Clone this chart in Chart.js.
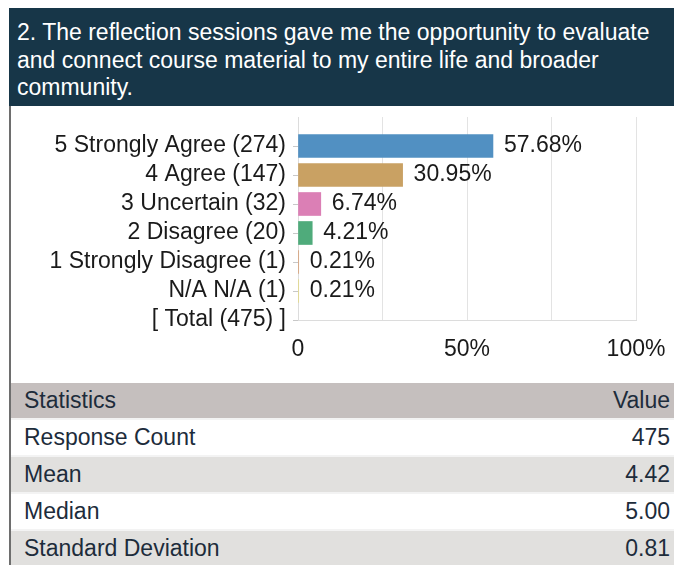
<!DOCTYPE html>
<html>
<head>
<meta charset="utf-8">
<script src="https://cdn.jsdelivr.net/npm/chart.js@4"></script>
<style>
  body { margin: 0; background: #fff; font-family: "Liberation Sans", Arial, sans-serif; }
  #wrap { position: absolute; left: 9px; top: 8px; width: 665px; }
  #title { background: #173648; color: #fff; font-size: 23px; line-height: 27.5px;
           padding: 11px 8px 0 8px; height: 87px; }
  #chartBox { position: relative; height: 277px; border-left: 2px solid #6e6e6e; background: #fff; }
  #chartBox canvas { position: absolute; left: 0; top: 0; }
  #stats { border-left: 2px solid #6e6e6e; }
  .row { display: flex; justify-content: space-between; height: 35px; line-height: 35px;
         border-bottom: 2px solid #f3f3f3; padding: 0 4px 0 13px; font-size: 23px; color: #1d2c3b; }
  .row.head { background: #c5bfbe; }
  .row.odd { background: #fff; }
  .row.even { background: #e1e0de; }
</style>
</head>
<body>
<div id="wrap">
  <div id="title">2. The reflection sessions gave me the opportunity to evaluate and connect course material to my entire life and broader community.</div>
  <div id="chartBox"><canvas id="graph" width="663" height="277"></canvas></div>
  <div id="stats"></div>
</div>
<script>
// ==== Data ====
var categories = ['5 Strongly Agree (274)', '4 Agree (147)', '3 Uncertain (32)', '2 Disagree (20)',
                  '1 Strongly Disagree (1)', 'N/A N/A (1)', '[ Total (475) ]'];
var percents = [57.68, 30.95, 6.74, 4.21, 0.21, 0.21];
var barColors = ['#5190c2', '#c9a163', '#db7fb5', '#4fab7b', '#d6a37c', '#e2d98c'];
var xTickLabels = ['0', '', '50%', '', '100%'];
var statNames = ['Response Count', 'Mean', 'Median', 'Standard Deviation'];
var statValues = ['475', '4.42', '5.00', '0.81'];

var FONT = '"Liberation Sans", Arial, sans-serif';

// ==== Stats table ====
var stats = document.getElementById('stats');
var html = '<div class="row head"><span>Statistics</span><span>Value</span></div>';
for (var i = 0; i < statNames.length; i++) {
    html += '<div class="row ' + (i % 2 ? 'even' : 'odd') + '"><span>' + statNames[i] +
            '</span><span>' + statValues[i] + '</span></div>';
}
stats.innerHTML = html;

// ==== Chart ====
// blank slot on top so the first bar sits one step below the top of the grid
var labels = [''].concat(categories);
var values = [null].concat(percents).concat([null]);
var colors = [null].concat(barColors).concat([null]);

var valueLabels = {
    id: 'valueLabels',
    afterDatasetsDraw: function(chart) {
        var ctx = chart.ctx;
        var meta = chart.getDatasetMeta(0);
        ctx.save();
        ctx.font = '23px ' + FONT;
        ctx.fillStyle = '#1a1a1a';
        ctx.textBaseline = 'middle';
        meta.data.forEach(function(bar, i) {
            var v = values[i];
            if (v == null) return;
            ctx.fillText(v.toFixed(2) + '%', bar.x + 11, bar.y);
        });
        ctx.restore();
    }
};

var config = {
    type: 'bar',
    data: {
        labels: labels,
        datasets: [{
            data: values,
            backgroundColor: colors,
            barThickness: 23,
        }],
    },
    options: {
        indexAxis: 'y',
        responsive: false,
        animation: false,
        layout: { padding: { top: 11, right: 38, left: 0, bottom: 0 } },
        plugins: {
            legend: { display: false },
            tooltip: { enabled: false }
        },
        scales: {
            y: {
                offset: false,
                grid: {
                    offset: false,
                    drawOnChartArea: false,
                    tickLength: 5,
                    color: function(c) { return c.index === 0 ? 'rgba(0,0,0,0)' : '#c8c8c8'; }
                },
                border: { color: '#dcdcdc' },
                // small lineHeight keeps the label overflow from pushing the plot top down
                ticks: { padding: 7, color: '#1a1a1a', autoSkip: false,
                         font: { size: 23, family: FONT, lineHeight: 0.3 } },
                afterFit: function(s) { s.width = 287; }
            },
            x: {
                min: 0, max: 100,
                grid: { color: '#e3e3e3', drawTicks: true, tickLength: 16, tickColor: 'rgba(0,0,0,0)' },
                border: { color: '#dcdcdc' },
                ticks: { stepSize: 25, padding: 0, autoSkip: false, maxRotation: 0, color: '#1a1a1a',
                         font: { size: 23, family: FONT },
                         callback: function(v, i) { return xTickLabels[i]; } },
                afterFit: function(s) { s.height = 63; }
            }
        }
    },
    plugins: [valueLabels]
};

const ctx = document.getElementById('graph').getContext('2d');
new Chart(ctx, config);
</script>
</body>
</html>
